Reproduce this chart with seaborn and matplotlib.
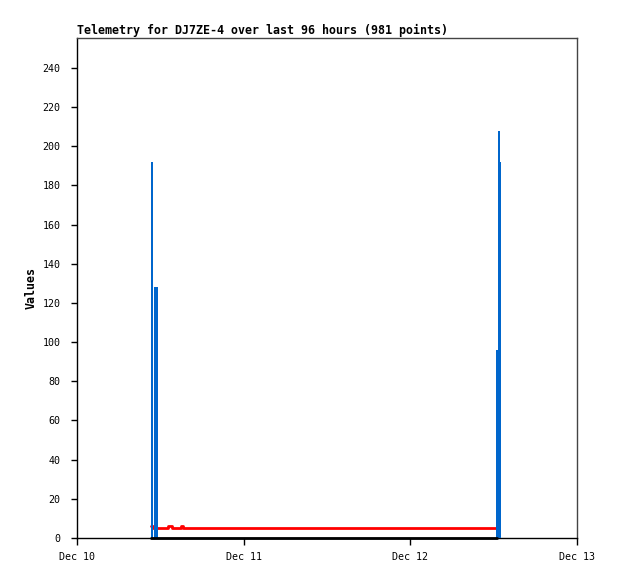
import matplotlib
matplotlib.use("Agg")
import matplotlib.pyplot as plt
import numpy as np
import pandas as pd
import seaborn as sns

# hours since Dec 10 00:00
blue_times = [10.8, 11.25, 11.5, 60.45, 60.72, 60.92]
blue_values = [192, 128, 128, 96, 208, 192]

red_times = [10.6, 10.9, 13.1, 13.7, 15.0, 15.3, 60.4]
red_values = [6, 5, 6, 5, 6, 5, 5]

black_times = [10.7, 60.5]
black_values = [0, 0]

tick_hours = [0, 24, 48, 72]
tick_labels = ["Dec 10", "Dec 11", "Dec 12", "Dec 13"]
y_ticks = list(range(0, 241, 20))

title = "Telemetry for DJ7ZE-4 over last 96 hours (981 points)"

sns.set_style("white")
plt.rcParams["font.family"] = ["DejaVu Sans Mono", "DejaVu Sans"]
plt.rcParams["text.color"] = "black"
plt.rcParams["axes.labelcolor"] = "black"
plt.rcParams["xtick.color"] = "black"
plt.rcParams["ytick.color"] = "black"

fig = plt.figure(figsize=(6.18, 5.79), dpi=100)
ax = fig.add_axes([77 / 618, 41 / 579, 500 / 618, 500 / 579])

red_df = pd.DataFrame({"t": red_times, "v": red_values})
black_df = pd.DataFrame({"t": black_times, "v": black_values})

sns.lineplot(data=red_df, x="t", y="v", ax=ax, color="#ff0000", linewidth=2.0,
             drawstyle="steps-post", zorder=3)
ax.bar(blue_times, blue_values, width=0.28, color="#0066cc", linewidth=0,
       align="center", zorder=4)
sns.lineplot(data=black_df, x="t", y="v", ax=ax, color="black", linewidth=2.0,
             zorder=5, clip_on=False)

ax.set_xlim(0, 72)
ax.set_ylim(0, 255.3)
ax.set_xticks(tick_hours)
ax.set_xticklabels(tick_labels)
ax.set_yticks(y_ticks)
ax.tick_params(axis="y", direction="out", length=4, width=1, pad=8,
               labelsize=7.2, left=True)
ax.tick_params(axis="x", direction="out", length=5, width=1, pad=5,
               labelsize=7.2, bottom=True)
ax.set_xlabel("")
ax.set_ylabel("Values", fontsize=8.4, fontweight="bold", labelpad=3)
ax.set_title(title, loc="left", fontsize=8.4, fontweight="bold", pad=3)

for side in ["left", "bottom"]:
    ax.spines[side].set_color("black")
    ax.spines[side].set_linewidth(1)
for side in ["top", "right"]:
    ax.spines[side].set_color("#444444")
    ax.spines[side].set_linewidth(1)

fig.savefig("out.png", dpi=100)
